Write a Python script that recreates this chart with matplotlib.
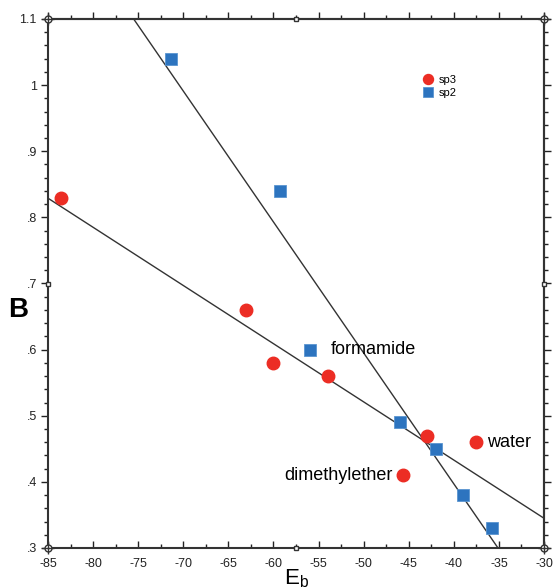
import numpy as np
import matplotlib.pyplot as plt
from matplotlib.ticker import MultipleLocator, FuncFormatter

# valores
sp3_x = [-83.6, -63.0, -60.0, -54.0, -43.0, -37.5, -45.6]
sp3_y = [0.83, 0.66, 0.58, 0.56, 0.47, 0.46, 0.41]
sp2_x = [-71.4, -59.3, -56.0, -46.0, -42.0, -39.0, -35.8]
sp2_y = [1.04, 0.84, 0.60, 0.49, 0.45, 0.38, 0.33]

# retas de ajuste (extremos)
fit_sp3_x = [-85.0, -30.0]
fit_sp3_y = [0.829, 0.345]
fit_sp2_x = [-75.5, -35.1]
fit_sp2_y = [1.10, 0.30]

labels = ['formamide', 'water', 'dimethylether']
label_pts = [(-56.0, 0.60), (-37.5, 0.46), (-45.6, 0.41)]

red = '#ec2d24'
blue = '#2d74bf'

plt.rcParams['font.family'] = ['Liberation Sans', 'DejaVu Sans']
plt.rcParams['axes.unicode_minus'] = False

fig = plt.figure(figsize=(5.54, 5.88), dpi=100)
ax = fig.add_axes([48 / 554, 1 - 548 / 588, 496 / 554, 529 / 588])

ax.plot(fit_sp3_x, fit_sp3_y, color='#333333', lw=1)
ax.plot(fit_sp2_x, fit_sp2_y, color='#333333', lw=1)

ax.plot(sp3_x, sp3_y, 'o', color=red, ms=9, mec=red, label='sp3', zorder=3)
ax.plot(sp2_x, sp2_y, 's', color=blue, ms=9, mec='#5a95d0', mew=0.6, label='sp2', zorder=3)

ax.text(label_pts[0][0] + 2.3, label_pts[0][1], labels[0], fontsize=13, va='center', ha='left')
ax.text(label_pts[1][0] + 1.2, label_pts[1][1], labels[1], fontsize=13, va='center', ha='left')
ax.text(label_pts[2][0] - 1.2, label_pts[2][1], labels[2], fontsize=13, va='center', ha='right')

ax.legend(loc='upper left', bbox_to_anchor=(0.745, 0.905), frameon=False,
          fontsize=8, markerscale=0.8, handlelength=0.8, handletextpad=0.6,
          labelspacing=0.3, borderpad=0)

ax.set_xlim(-85, -30)
ax.set_ylim(0.3, 1.1)

ax.xaxis.set_major_locator(MultipleLocator(5))
ax.xaxis.set_minor_locator(MultipleLocator(2.5))
ax.yaxis.set_major_locator(MultipleLocator(0.1))
ax.yaxis.set_minor_locator(MultipleLocator(0.02))

def fmt_y(v, pos):
    s = ('%.1f' % v).rstrip('0').rstrip('.')
    if s.startswith('0'):
        s = s[1:]
    return s

ax.yaxis.set_major_formatter(FuncFormatter(fmt_y))

for s in ax.spines.values():
    s.set_linewidth(1.5)
    s.set_color('#333333')

ax.tick_params(axis='x', which='both', direction='in', labelsize=9, pad=7, colors='#222222')
ax.tick_params(axis='y', which='both', direction='out', labelsize=9, pad=3, colors='#222222')
ax.tick_params(which='major', length=5, width=1)
ax.tick_params(which='minor', length=3, width=1)

top = ax.secondary_xaxis('top')
top.xaxis.set_major_locator(MultipleLocator(5))
top.xaxis.set_minor_locator(MultipleLocator(2.5))
top.tick_params(which='both', direction='out', labeltop=False, colors='#222222')
top.tick_params(which='major', length=5, width=1)
top.tick_params(which='minor', length=3, width=1)
right = ax.secondary_yaxis('right')
right.yaxis.set_major_locator(MultipleLocator(0.1))
right.yaxis.set_minor_locator(MultipleLocator(0.02))
right.tick_params(which='both', direction='out', labelright=False, colors='#222222')
right.tick_params(which='major', length=5, width=1)
right.tick_params(which='minor', length=3, width=1)
for sa in (top, right):
    for s in sa.spines.values():
        s.set_linewidth(1.5)
        s.set_color('#333333')

# marcadores nos cantos e pontos medios dos eixos
cx = [-85, -30, -85, -30]
cy = [0.3, 0.3, 1.1, 1.1]
ax.plot(cx, cy, 'o', ms=5, mfc='white', mec='#333333', mew=1, clip_on=False, zorder=5)
ax.plot(cx, cy, '+', ms=8, color='#333333', mew=1, clip_on=False, zorder=6)
mx = [-57.5, -57.5, -85, -30]
my = [0.3, 1.1, 0.7, 0.7]
ax.plot(mx, my, 's', ms=3.5, mfc='white', mec='#333333', mew=1, clip_on=False, zorder=5)

ax.set_xlabel('E$_\\mathregular{b}$', fontsize=16, labelpad=-2)
fig.text(18 / 554, 1 - 310 / 588, 'B', fontsize=20, fontweight='bold', ha='center', va='center')

fig.savefig('out.png', dpi=100)
